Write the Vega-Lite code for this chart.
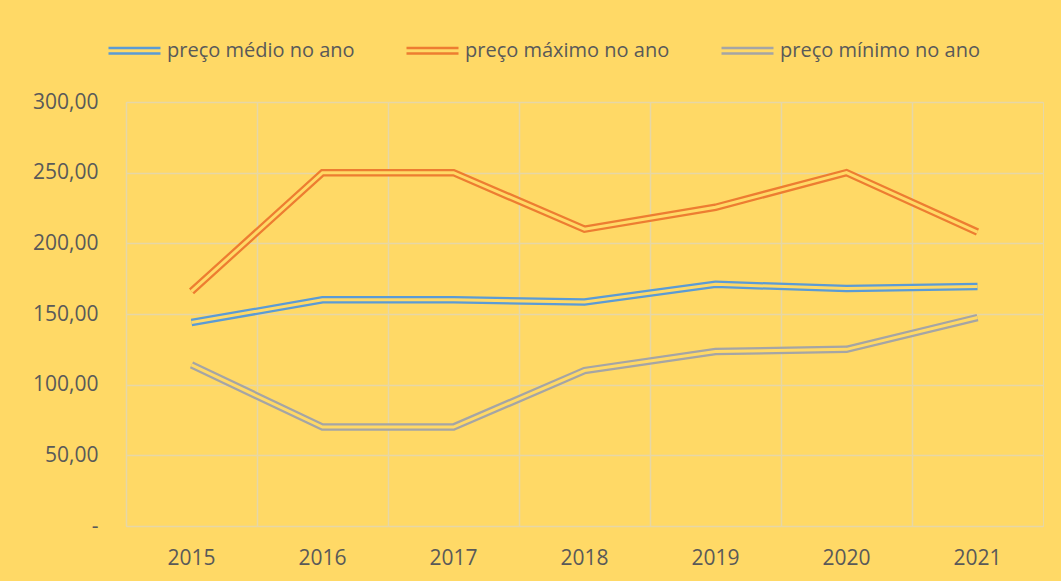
{
  "$schema": "https://vega.github.io/schema/vega-lite/v6.json",
  "width": 917,
  "height": 424,
  "autosize": {"type": "none"},
  "padding": {"left": 126, "top": 102, "right": 18, "bottom": 55},
  "background": "#FFD966",
  "data": {
    "values": [
      {"ano": "2015", "serie": "preço médio no ano", "preco": 144},
      {"ano": "2016", "serie": "preço médio no ano", "preco": 160},
      {"ano": "2017", "serie": "preço médio no ano", "preco": 160},
      {"ano": "2018", "serie": "preço médio no ano", "preco": 158.5},
      {"ano": "2019", "serie": "preço médio no ano", "preco": 171},
      {"ano": "2020", "serie": "preço médio no ano", "preco": 168},
      {"ano": "2021", "serie": "preço médio no ano", "preco": 169.5},
      {"ano": "2015", "serie": "preço máximo no ano", "preco": 166},
      {"ano": "2016", "serie": "preço máximo no ano", "preco": 250},
      {"ano": "2017", "serie": "preço máximo no ano", "preco": 250},
      {"ano": "2018", "serie": "preço máximo no ano", "preco": 210},
      {"ano": "2019", "serie": "preço máximo no ano", "preco": 225.5},
      {"ano": "2020", "serie": "preço máximo no ano", "preco": 250},
      {"ano": "2021", "serie": "preço máximo no ano", "preco": 208},
      {"ano": "2015", "serie": "preço mínimo no ano", "preco": 114},
      {"ano": "2016", "serie": "preço mínimo no ano", "preco": 70},
      {"ano": "2017", "serie": "preço mínimo no ano", "preco": 70},
      {"ano": "2018", "serie": "preço mínimo no ano", "preco": 110},
      {"ano": "2019", "serie": "preço mínimo no ano", "preco": 123.5},
      {"ano": "2020", "serie": "preço mínimo no ano", "preco": 125},
      {"ano": "2021", "serie": "preço mínimo no ano", "preco": 147.5}
    ]
  },
  "encoding": {
    "x": {
      "field": "ano",
      "type": "ordinal",
      "scale": {"type": "band", "paddingInner": 0, "paddingOuter": 0},
      "axis": {
        "title": null,
        "labelAngle": 0,
        "ticks": false,
        "grid": true,
        "bandPosition": 0,
        "domain": true,
        "domainColor": "#E6D7A6",
        "labelPadding": 21,
        "labelFontSize": 21
      }
    },
    "y": {
      "field": "preco",
      "type": "quantitative",
      "scale": {"domain": [0, 300]},
      "axis": {
        "title": null,
        "values": [0, 50, 100, 150, 200, 250, 300],
        "labelExpr": "datum.value == 0 ? '-' : replace(format(datum.value, '.2f'), '.', ',')",
        "ticks": false,
        "domain": false,
        "labelPadding": 28,
        "labelFontSize": 21
      }
    }
  },
  "layer": [
    {
      "mark": {"type": "line", "strokeWidth": 7.5, "strokeJoin": "miter"},
      "encoding": {
        "stroke": {
          "field": "serie",
          "type": "nominal",
          "scale": {
            "domain": ["preço médio no ano", "preço máximo no ano", "preço mínimo no ano"],
            "range": ["#5B9BD5", "#ED7D31", "#A5A5A5"]
          },
          "legend": {
            "title": null,
            "orient": "none",
            "direction": "horizontal",
            "legendX": -19,
            "legendY": -79,
            "symbolType": "M-1,-0.11H1M-1,0.11H1",
            "symbolSize": 2704,
            "symbolStrokeWidth": 2.5,
            "symbolFillColor": "transparent",
            "labelFontSize": 20,
            "labelOffset": 5,
            "columnPadding": 46,
            "labelLimit": 400
          }
        }
      }
    },
    {
      "mark": {"type": "line", "strokeWidth": 3, "stroke": "#FFD966", "strokeJoin": "miter"},
      "encoding": {"detail": {"field": "serie", "type": "nominal"}}
    }
  ],
  "config": {
    "font": "Open Sans",
    "view": {"stroke": "#E6D7A6"},
    "axis": {
      "gridColor": "#E6D7A6",
      "gridWidth": 1.5,
      "labelColor": "#595959",
      "labelFont": "Open Sans"
    },
    "legend": {"labelColor": "#595959", "labelFont": "Open Sans"}
  }
}
